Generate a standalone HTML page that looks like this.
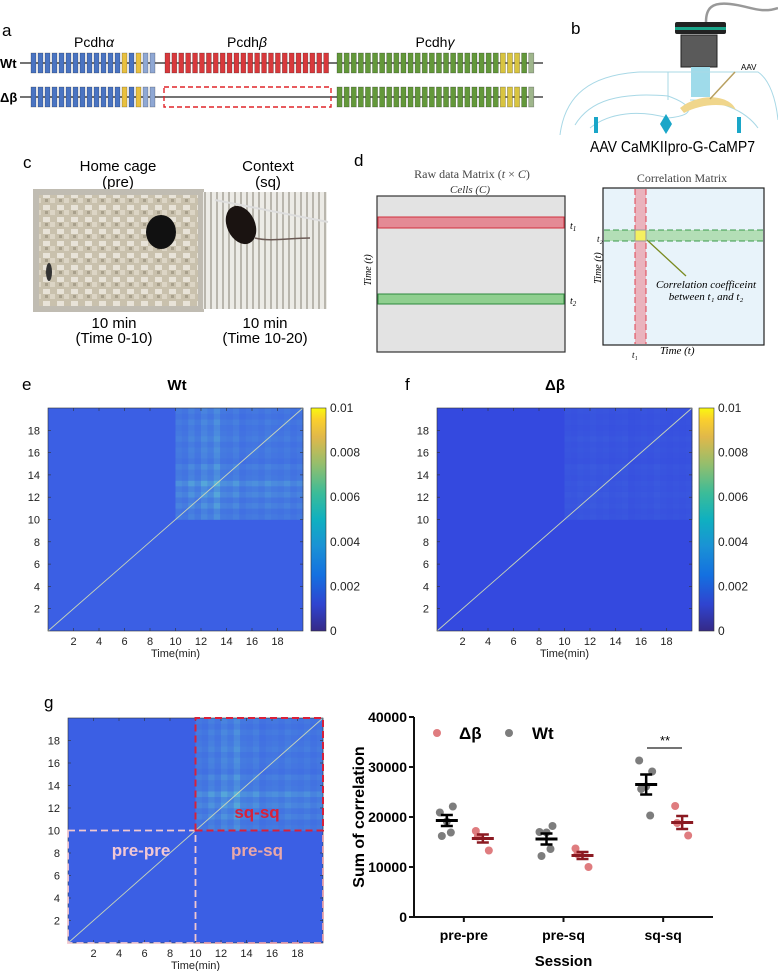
<!DOCTYPE html>
<html><head><meta charset="utf-8"><style>
html,body{margin:0;padding:0;background:#fff;}
svg{display:block;font-family:"Liberation Sans",sans-serif;}
.lab{font-size:17px;}
.serif{font-family:"Liberation Serif",serif;}
</style></head><body>
<svg id="fig" width="778" height="971" viewBox="0 0 778 971" xmlns="http://www.w3.org/2000/svg">
<defs>
<linearGradient id="parula" x1="0" y1="1" x2="0" y2="0">
<stop offset="0" stop-color="#352a87"/><stop offset="0.12" stop-color="#2f44d0"/><stop offset="0.25" stop-color="#1470e0"/><stop offset="0.38" stop-color="#1a92d5"/><stop offset="0.5" stop-color="#0fb0c0"/><stop offset="0.62" stop-color="#3cbc98"/><stop offset="0.75" stop-color="#95be6c"/><stop offset="0.87" stop-color="#e0b84a"/><stop offset="0.95" stop-color="#fbd02c"/><stop offset="1" stop-color="#f8f810"/>
</linearGradient>
<pattern id="stripes" width="6" height="10" patternUnits="userSpaceOnUse"><rect width="6" height="10" fill="#ecebe6"/><rect width="2" height="10" fill="#b9b6ad"/></pattern>
<pattern id="bedding" width="14" height="12" patternUnits="userSpaceOnUse"><rect width="14" height="12" fill="#c9c1ad"/><rect x="1" y="1" width="7" height="5" fill="#e8e3d8"/><rect x="8" y="6" width="5" height="5" fill="#dcd5c5"/><rect x="3" y="7" width="3" height="3" fill="#a8a08c"/></pattern>
</defs>

<!-- Panel a -->
<g>
<text x="2" y="36" class="lab">a</text>
<text x="94" y="47" font-size="14" text-anchor="middle">Pcdh<tspan font-style="italic">α</tspan></text>
<text x="247" y="47" font-size="14" text-anchor="middle">Pcdh<tspan font-style="italic">β</tspan></text>
<text x="435" y="47" font-size="14" text-anchor="middle">Pcdh<tspan font-style="italic">γ</tspan></text>
<text x="0" y="68" font-size="13" font-weight="bold">Wt</text>
<text x="0" y="102" font-size="13" font-weight="bold">Δβ</text>
<line x1="20" y1="63" x2="543" y2="63" stroke="#222" stroke-width="1.2"/>
<line x1="20" y1="97" x2="543" y2="97" stroke="#222" stroke-width="1.2"/>
<rect x="164" y="87" width="167" height="20" fill="none" stroke="#e0252a" stroke-width="1.4" stroke-dasharray="5,3"/>
<g id="genes"></g>
</g>

<!-- Panel b -->
<g>
<text x="571" y="34" class="lab">b</text>
<path d="M706 22 C706 8 712 2 730 4 C750 6 760 14 778 8" fill="none" stroke="#999" stroke-width="2.5"/>
<rect x="675" y="22" width="51" height="12" rx="2" fill="#222"/>
<rect x="675" y="27" width="51" height="3" fill="#1aa58a"/>
<rect x="681" y="35" width="36" height="32" fill="#5a5a5a" stroke="#222"/>
<rect x="691" y="67" width="19" height="30" fill="#9fdbea"/>
<path d="M560 135 C565 95 590 75 640 72 L758 72 C770 80 776 100 778 120" fill="none" stroke="#a8d8e6" stroke-width="1"/>
<path d="M575 125 C590 100 620 92 668 96 C690 104 700 115 668 118 C640 110 610 112 590 128" fill="none" stroke="#a8d8e6" stroke-width="1"/>
<path d="M690 100 C720 100 745 110 758 128" fill="none" stroke="#a8d8e6" stroke-width="1"/>
<path d="M668 72 L668 100" stroke="#a8d8e6"/>
<path d="M680 108 C700 92 730 95 736 110 C725 102 700 104 684 113 Z" fill="#f0d68c"/>
<line x1="710" y1="99" x2="735" y2="72" stroke="#b8a060" stroke-width="1.5"/>
<path d="M666 114 L672 124 L666 134 L660 124 Z" fill="#1aa6c8"/>
<rect x="594" y="117" width="4" height="16" fill="#1aa6c8"/><rect x="737" y="117" width="4" height="16" fill="#1aa6c8"/>
<text x="741" y="70" font-size="8">AAV</text>
<text x="590" y="152" font-size="16" textLength="165" lengthAdjust="spacingAndGlyphs">AAV CaMKIIpro-G-CaMP7</text>
</g>

<!-- Panel c -->
<g>
<text x="23" y="168" class="lab">c</text>
<text x="118" y="171" font-size="15" text-anchor="middle">Home cage</text>
<text x="118" y="187" font-size="15" text-anchor="middle">(pre)</text>
<text x="268" y="171" font-size="15" text-anchor="middle">Context</text>
<text x="268" y="187" font-size="15" text-anchor="middle">(sq)</text>
<rect x="36" y="192" width="165" height="117" fill="url(#bedding)"/>
<rect x="36" y="192" width="165" height="117" fill="none" stroke="#c0bcb2" stroke-width="6"/>
<ellipse cx="161" cy="232" rx="15" ry="17" fill="#111"/>
<ellipse cx="49" cy="272" rx="3" ry="9" fill="#333"/>
<rect x="203" y="192" width="124" height="117" fill="url(#stripes)"/>
<ellipse cx="241" cy="225" rx="14" ry="20" fill="#1a1311" transform="rotate(-25 241 225)"/>
<path d="M255 238 C270 242 290 238 310 238" stroke="#6b5a55" stroke-width="1.5" fill="none"/>
<line x1="215" y1="200" x2="328" y2="222" stroke="#ddd" stroke-width="2"/>
<text x="114" y="328" font-size="15" text-anchor="middle">10 min</text>
<text x="114" y="343" font-size="15" text-anchor="middle">(Time 0-10)</text>
<text x="265" y="328" font-size="15" text-anchor="middle">10 min</text>
<text x="265" y="343" font-size="15" text-anchor="middle">(Time 10-20)</text>
</g>

<!-- Panel d -->
<g>
<text x="354" y="166" class="lab">d</text>
<text x="472" y="178" font-size="12" text-anchor="middle" class="serif" fill="#444">Raw data Matrix (<tspan font-style="italic">t</tspan> × <tspan font-style="italic">C</tspan>)</text>
<text x="470" y="193" font-size="11" text-anchor="middle" class="serif" font-style="italic" fill="#333">Cells (C)</text>
<rect x="377" y="196" width="188" height="156" fill="#e3e3e3" stroke="#333" stroke-width="1.2"/>
<rect x="378" y="217" width="186" height="11" fill="#e48a95" stroke="#d0303e"/>
<rect x="378" y="294" width="186" height="10" fill="#8fcf8f" stroke="#2e8a3e"/>
<text x="570" y="229" font-size="10" class="serif" font-style="italic">t<tspan font-size="7" dy="2">1</tspan></text>
<text x="570" y="304" font-size="10" class="serif" font-style="italic">t<tspan font-size="7" dy="2">2</tspan></text>
<text x="371" y="270" font-size="10" class="serif" font-style="italic" text-anchor="middle" transform="rotate(-90 371 270)">Time (t)</text>
<text x="682" y="182" font-size="12" text-anchor="middle" class="serif" fill="#444">Correlation Matrix</text>
<rect x="603" y="188" width="161" height="157" fill="#e8f3fa" stroke="#222" stroke-width="1.2"/>
<rect x="635" y="189" width="11" height="155" fill="#eab3bd"/>
<line x1="635" y1="189" x2="635" y2="344" stroke="#e04050" stroke-dasharray="6,3"/>
<line x1="646" y1="189" x2="646" y2="344" stroke="#e04050" stroke-dasharray="6,3"/>
<rect x="604" y="230" width="159" height="11" fill="#a9d9a9" opacity="0.85"/>
<line x1="604" y1="230" x2="763" y2="230" stroke="#3a9a4a" stroke-dasharray="6,3"/>
<line x1="604" y1="241" x2="763" y2="241" stroke="#3a9a4a" stroke-dasharray="6,3"/>
<rect x="635" y="230" width="11" height="11" fill="#f4f060" stroke="#999"/>
<line x1="686" y1="276" x2="647" y2="240" stroke="#7a8a20" stroke-width="1.3"/>
<text x="706" y="288" font-size="11" class="serif" font-style="italic" text-anchor="middle">Correlation coefficeint</text>
<text x="706" y="300" font-size="11" class="serif" font-style="italic" text-anchor="middle">between t₁ and t₂</text>
<text x="597" y="242" font-size="9" class="serif" font-style="italic">t₂</text>
<text x="601" y="268" font-size="10" class="serif" font-style="italic" text-anchor="middle" transform="rotate(-90 601 268)">Time (t)</text>
<text x="632" y="358" font-size="9" class="serif" font-style="italic">t₁</text>
<text x="660" y="354" font-size="11" class="serif" font-style="italic">Time (t)</text>
</g>

<!-- Panels e, f labels -->
<text x="22" y="390" class="lab">e</text>
<text x="177" y="390" font-size="15" font-weight="bold" text-anchor="middle">Wt</text>
<text x="405" y="390" class="lab">f</text>
<text x="555" y="390" font-size="15" font-weight="bold" text-anchor="middle">Δβ</text>
<text x="44" y="708" class="lab">g</text>

<g id="heatE"></g>
<g id="heatF"></g>
<g id="heatG"></g>
<g id="overlayG"></g>
<g id="scatter"></g>
</svg>
<script>
// ===== Heatmap data =====
const timeTicks = [2,4,6,8,10,12,14,16,18];
const cbTicks = ["0","0.002","0.004","0.006","0.008","0.01"];
// per-minute correlation strength in sq period (10-20 min), read approximately
const wtSqStrength = [0.55,0.45,0.7,0.5,0.8,0.6,0.95,0.55,0.5,0.65,0.4,0.5,0.55,0.45,0.6,0.5,0.45,0.55,0.4,0.5];
const dbSqStrength = [0.4,0.35,0.45,0.4,0.5,0.4,0.45,0.35,0.4,0.45,0.3,0.35,0.4,0.35,0.45,0.35,0.3,0.35,0.3,0.35];

// ===== Scatter data =====
const sessions = ["pre-pre","pre-sq","sq-sq"];
const wtPoints = [[20900,22100,16200,16900,19100],[17000,18200,12200,13600,16900],[31300,29100,25600,20300,26100]];
const dbPoints = [[17200,13300,16100],[13700,10000,12600],[22200,16300,18800]];
const wtMean = [19300,15600,26500];
const wtSem = [1100,1100,2000];
const dbMean = [15700,12300,18900];
const dbSem = [800,700,1300];
const yTicks = [0,10000,20000,30000,40000];

const NS = "http://www.w3.org/2000/svg";
function mk(tag, attrs, parent){const e=document.createElementNS(NS,tag);for(const k in attrs)e.setAttribute(k,attrs[k]);parent.appendChild(e);return e;}
function mix(c1,c2,t){const a=[1,3,5].map(i=>parseInt(c1.substr(i,2),16)),b=[1,3,5].map(i=>parseInt(c2.substr(i,2),16));return "rgb("+a.map((v,i)=>Math.round(v+(b[i]-v)*t)).join(",")+")";}

// ===== Genes (panel a) =====
const genesG=document.getElementById('genes');
function cluster(x0,n,pitch,y,colors){
  for(let i=0;i<n;i++){
    const r=mk('rect',{x:x0+i*pitch,y:y-10,width:pitch-2,height:20,fill:colors(i),stroke:"rgba(0,0,0,0.35)","stroke-width":0.6},genesG);
    
    
  }
}
const aCol=i=>i===13||i===15?"#e8c040":(i>=16?"#8fa8d4":"#4a74c2");
const gCol=i=>(i===23||i===24||i===25)?"#d8c440":(i>=27?"#9fb68c":"#63983a");
[63,97].forEach(y=>{cluster(31,18,7,y,aCol);cluster(337,28,7.1,y,gCol);});
cluster(165,24,6.9,63,()=> "#d8393c");

// ===== Heatmaps =====
function heatmap(gid,x0,y0,w,h,base,hot,strength,cbx){
  const g=document.getElementById(gid);
  mk('rect',{x:x0,y:y0,width:w,height:h,fill:base},g);
  const n=strength.length,cw=w/2/n,ch=h/2/n;
  for(let i=0;i<n;i++)for(let j=0;j<n;j++){
    const t=strength[i]*strength[j];
    const c=mk('rect',{x:x0+w/2+j*cw,y:y0+h/2-(i+1)*ch,width:cw+0.3,height:ch+0.3,fill:mix(base,hot,Math.min(1,t*1.1))},g);
    
    
  }
  mk('line',{x1:x0,y1:y0+h,x2:x0+w,y2:y0,stroke:"#c9d6b8","stroke-width":0.9},g);
  mk('rect',{x:x0,y:y0,width:w,height:h,fill:"none",stroke:"#333","stroke-width":0.6},g);
  const sx=v=>x0+v/20*w, sy=v=>y0+h-v/20*h;
  timeTicks.forEach(t=>{
    mk('line',{x1:sx(t),y1:y0+h,x2:sx(t),y2:y0+h-3,stroke:"#333","stroke-width":0.6},g);
    mk('line',{x1:sx(t),y1:y0,x2:sx(t),y2:y0+3,stroke:"#333","stroke-width":0.6},g);
    mk('line',{x1:x0,y1:sy(t),x2:x0+3,y2:sy(t),stroke:"#333","stroke-width":0.6},g);
    mk('line',{x1:x0+w,y1:sy(t),x2:x0+w-3,y2:sy(t),stroke:"#333","stroke-width":0.6},g);
    const xl=mk('text',{x:sx(t),y:y0+h+14,"font-size":11,"text-anchor":"middle",fill:"#222"},g);xl.textContent=t;
    
    
    const yl=mk('text',{x:x0-8,y:sy(t)+4,"font-size":11,"text-anchor":"end",fill:"#222"},g);yl.textContent=t;
    
    
  });
  const xt=mk('text',{x:x0+w/2,y:y0+h+26,"font-size":11,"text-anchor":"middle",fill:"#222"},g);xt.textContent="Time(min)";
  
  
  if(cbx){
    const cb=mk('rect',{x:cbx,y:y0,width:15,height:h,fill:"url(#parula)",stroke:"#333","stroke-width":0.6},g);
    
    
    cbTicks.forEach((t,i)=>{
      const yy=y0+h-i/(cbTicks.length-1)*h;
      const l=mk('text',{x:cbx+19,y:yy+4,"font-size":12,fill:"#222"},g);l.textContent=t;
      
      
    });
  }
}
heatmap('heatE',48,408,255,223,"#3b5fe4","#5ab4d8",wtSqStrength,311);
heatmap('heatF',437,408,255,223,"#3449df","#4f8fe0",dbSqStrength,699);
heatmap('heatG',68,718,255,225,"#3b5fe4","#5ab4d8",wtSqStrength,null);

// overlay regions on g
(function(){
  const g=document.getElementById('overlayG');
  const x0=68,y0=718,w=255,h=225,mx=x0+w/2,my=y0+h/2;
  mk('path',{d:`M${x0} ${my} H${mx} V${y0+h} H${x0} Z`,fill:"none",stroke:"#f0c8d0","stroke-width":1.8,"stroke-dasharray":"7,4"},g);
  mk('path',{d:`M${mx} ${my} H${x0+w} V${y0+h} H${mx}`,fill:"none",stroke:"#e8a0a8","stroke-width":1.8,"stroke-dasharray":"7,4"},g);
  mk('path',{d:`M${mx} ${my} V${y0} H${x0+w} V${my} Z`,fill:"none",stroke:"#d8203a","stroke-width":2,"stroke-dasharray":"7,4"},g);
  const t1=mk('text',{x:257,y:818,"font-size":17,"font-weight":"bold","text-anchor":"middle",fill:"#d8203a"},g);t1.textContent="sq-sq";
  
  const t2=mk('text',{x:141,y:856,"font-size":17,"font-weight":"bold","text-anchor":"middle",fill:"#f2c8d4"},g);t2.textContent="pre-pre";
  
  const t3=mk('text',{x:257,y:856,"font-size":17,"font-weight":"bold","text-anchor":"middle",fill:"#eaa8a8"},g);t3.textContent="pre-sq";
  
})();

// ===== Scatter chart =====
(function(){
  const g=document.getElementById('scatter');
  const X0=414,X1=713,Y0=917,Ytop=717;
  const y=v=>Y0-(v/40000)*(Y0-Ytop);
  const x=i=>X0+(i+0.5)*(X1-X0)/sessions.length;
  mk('line',{x1:X0,y1:Ytop,x2:X0,y2:Y0,stroke:"#111","stroke-width":2},g);
  mk('line',{x1:X0,y1:Y0,x2:X1,y2:Y0,stroke:"#111","stroke-width":2},g);
  yTicks.forEach(t=>{
    mk('line',{x1:X0-5,y1:y(t),x2:X0,y2:y(t),stroke:"#111","stroke-width":2},g);
    const l=mk('text',{x:X0-7,y:y(t)+5,"font-size":14,"font-weight":"bold","text-anchor":"end"},g);l.textContent=t;
    
  });
  sessions.forEach((s,i)=>{
    mk('line',{x1:x(i),y1:Y0,x2:x(i),y2:Y0+5,stroke:"#111","stroke-width":2},g);
    const l=mk('text',{x:x(i),y:Y0+23,"font-size":14,"font-weight":"bold","text-anchor":"middle"},g);l.textContent=s;
    
  });
  const xt=mk('text',{x:(X0+X1)/2,y:Y0+49,"font-size":15,"font-weight":"bold","text-anchor":"middle"},g);xt.textContent="Session";
  
  const yt=mk('text',{x:364,y:817,"font-size":16,"font-weight":"bold","text-anchor":"middle",transform:"rotate(-90 364 817)"},g);yt.textContent="Sum of correlation";
  
  const jit=[-7,6,-5,4,0];
  function group(pts,mean,sem,off,dot,bar){
    pts.forEach((arr,i)=>arr.forEach((v,k)=>{
      const c=mk('circle',{cx:x(i)+off+jit[k%jit.length],cy:y(v),r:4,fill:dot},g);
      
    }));
    mean.forEach((m,i)=>{
      const cx=x(i)+off;
      const b=mk('g',{},g);
      
      mk('line',{x1:cx-11,y1:y(m),x2:cx+11,y2:y(m),stroke:bar,"stroke-width":3},b);
      mk('line',{x1:cx,y1:y(m-sem[i]),x2:cx,y2:y(m+sem[i]),stroke:bar,"stroke-width":2.5},b);
      mk('line',{x1:cx-6,y1:y(m-sem[i]),x2:cx+6,y2:y(m-sem[i]),stroke:bar,"stroke-width":2.5},b);
      mk('line',{x1:cx-6,y1:y(m+sem[i]),x2:cx+6,y2:y(m+sem[i]),stroke:bar,"stroke-width":2.5},b);
    });
  }
  group(wtPoints,wtMean,wtSem,-17,"#7d7d7d","#000");
  group(dbPoints,dbMean,dbSem,19,"#df7c7f","#8b1a22");
  const l1=mk('circle',{cx:437,cy:733,r:4,fill:"#df7c7f"},g);
  const lt1=mk('text',{x:459,y:739,"font-size":17,"font-weight":"bold"},g);lt1.textContent="Δβ";
  
  const l2=mk('circle',{cx:509,cy:733,r:4,fill:"#7d7d7d"},g);
  const lt2=mk('text',{x:532,y:739,"font-size":17,"font-weight":"bold"},g);lt2.textContent="Wt";
  
  const sl=mk('line',{x1:647,y1:748,x2:682,y2:748,stroke:"#222","stroke-width":1.3},g);
  
  const st=mk('text',{x:665,y:745,"font-size":13,"text-anchor":"middle"},g);st.textContent="**";
  
})();
</script>
</body></html>
